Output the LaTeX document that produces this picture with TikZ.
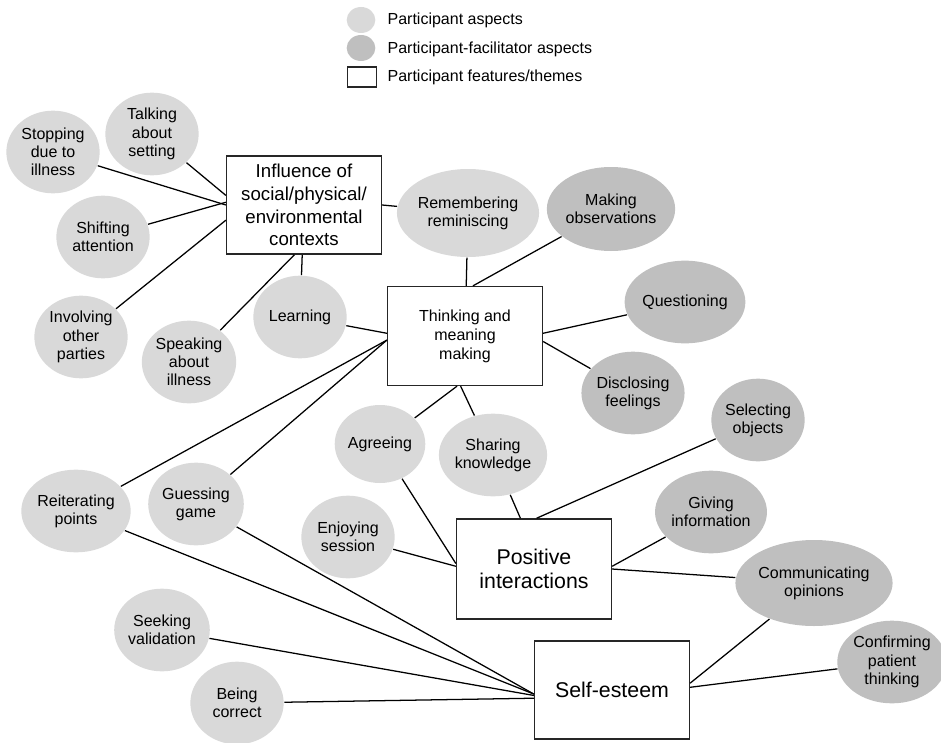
\documentclass[tikz,border=0pt]{standalone}
\usepackage{fontspec}
\setmainfont{Liberation Sans}
\usetikzlibrary{shapes.geometric,positioning}
\definecolor{AspectGray}{RGB}{217,217,217}
\definecolor{FacilGray}{RGB}{191,191,191}
\tikzset{every node/.append style={transform shape=false}}
\tikzset{Aspect/.style={ellipse, fill=AspectGray, align=center, inner sep=0pt,
    minimum width=70pt, minimum height=62pt, font=\fontsize{12}{13.7}\selectfont}}
\tikzset{FacilAspect/.style={Aspect, fill=FacilGray}}
\tikzset{Theme/.style={draw=black!85, line width=1.2pt, align=center, fill=white,
    minimum width=116pt, minimum height=73.5pt}}
\tikzset{LegendText/.style={right, inner sep=0pt, font=\fontsize{12}{14}\selectfont}}

\begin{document}
\begin{tikzpicture}[x=0.75pt, y=-0.75pt, line width=0.95pt]
\useasboundingbox (0,0) rectangle (941,742);
% legend
\node[Aspect, minimum width=21.5pt, minimum height=19.5pt] (legA) at (361,20) {};
\node[FacilAspect, minimum width=21.5pt, minimum height=19.5pt] (legF) at (361,48) {};
\node[draw=black!85, line width=0.9pt, minimum width=22pt, minimum height=15pt] (legT) at (362,77) {};
\node[LegendText] at (387,20) {Participant aspects};
\node[LegendText] at (387,49) {Participant-facilitator aspects};
\node[LegendText] at (387,77) {Participant features/themes};
% themes
\node[Theme, font=\fontsize{14}{17}\selectfont] (infl) at (304,205) {Influence of\\social/physical/\\environmental\\contexts};
\node[Theme, minimum height=74pt, font=\fontsize{12}{14.2}\selectfont] (think) at (465,336) {Thinking and\\meaning\\making};
\node[Theme, minimum height=75pt, font=\fontsize{16}{18.5}\selectfont] (pos) at (534,569) {Positive\\interactions};
\node[Theme, font=\fontsize{16}{18.5}\selectfont] (self) at (612,690) {Self-esteem};
% participant aspects
\node[Aspect] (stop) at (53,152) {Stopping\\due to\\illness};
\node[Aspect] (talk) at (152,134) {Talking\\about\\setting};
\node[Aspect] (shift) at (103,237) {Shifting\\attention};
\node[Aspect] (involv) at (81,337) {Involving\\other\\parties};
\node[Aspect] (speak) at (189,362) {Speaking\\about\\illness};
\node[Aspect] (learn) at (300,317) {Learning};
\node[Aspect, minimum width=93pt, minimum height=66pt] (remem) at (468,213) {Remembering\\reminiscing};
\node[Aspect] (share) at (493,455) {Sharing\\knowledge};
\node[Aspect, minimum width=67.5pt, minimum height=58.5pt] (agree) at (380,444) {Agreeing};
\node[Aspect] (reiter) at (76,511) {Reiterating\\points};
\node[Aspect] (guess) at (196,504) {Guessing\\game};
\node[Aspect] (enjoy) at (348,537) {Enjoying\\session};
\node[Aspect] (seek) at (162,630) {Seeking\\validation};
\node[Aspect] (correct) at (237,703) {Being\\correct};
% participant-facilitator aspects
\node[FacilAspect, minimum width=85.5pt, minimum height=63pt] (makeobs) at (611,209) {Making\\observations};
\node[FacilAspect] (quest) at (685,302) {Questioning};
\node[FacilAspect] (discl) at (633,393) {Disclosing\\feelings};
\node[FacilAspect] (select) at (758,420) {Selecting\\objects};
\node[FacilAspect] (giving) at (711,512) {Giving\\information};
\node[FacilAspect, minimum width=94.5pt, minimum height=64.5pt] (commun) at (814,583) {Communicating\\opinions};
\node[FacilAspect] (confirm) at (892,662) {Confirming\\patient\\thinking};
% links to influence
\draw (stop) -- (infl.west);
\draw (talk) -- (infl.173);
\draw (shift) -- (infl.178);
\draw (involv) -- (infl.191);
\draw (speak) -- (infl.259);
\draw (learn) -- (infl);
\draw (remem) -- (infl.east);
% links to thinking
\draw (remem) -- (think);
\draw (makeobs) -- (think.81);
\draw (quest) -- (think.2);
\draw (discl) -- (think.356);
\draw (learn) -- (think.178);
\draw (reiter) -- (think.183);
\draw (guess) -- (think.183);
\draw (agree) -- (think.261);
\draw (share) -- (think.265);
% links to positive interactions
\draw (agree) -- (pos.176);
\draw (enjoy) -- (pos.178);
\draw (share) -- (pos.105);
\draw (select) -- (pos.87);
\draw (giving) -- (pos.2);
\draw (commun) -- (pos.east);
% links to self-esteem
\draw (reiter) -- (self.183);
\draw (guess) -- (self.183);
\draw (seek) -- (self.184);
\draw (correct) -- (self.186);
\draw (commun) -- (self.5);
\draw (confirm) -- (self.2);
\end{tikzpicture}
\end{document}
